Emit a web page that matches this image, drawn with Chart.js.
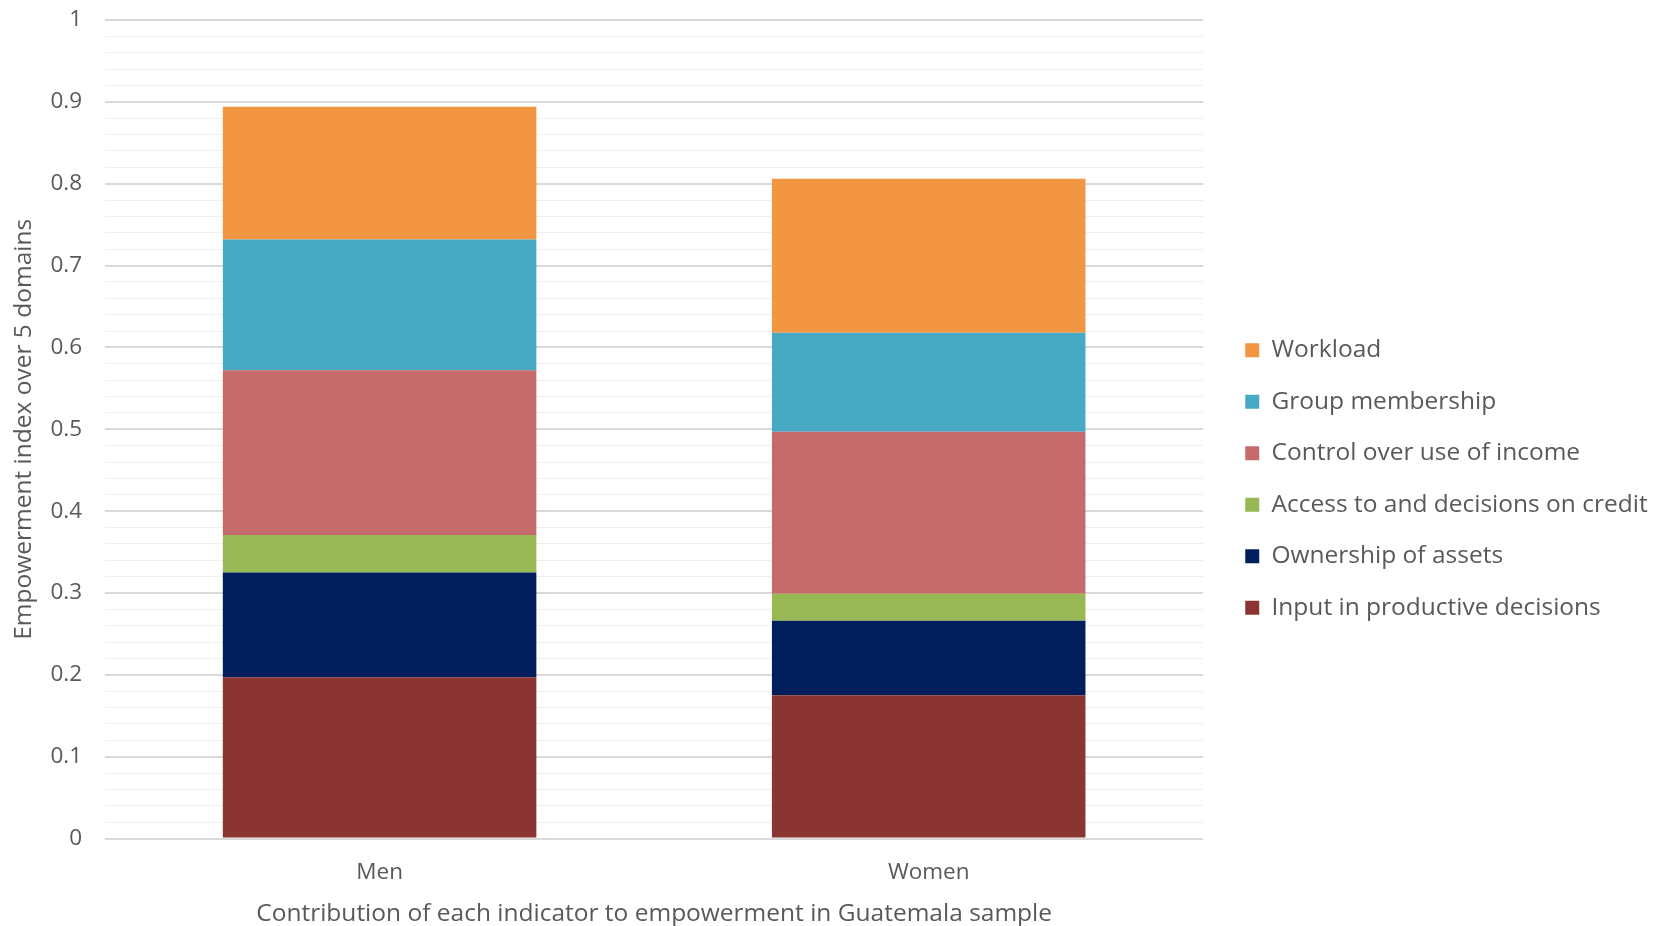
<!DOCTYPE html>
<html>
<head>
<meta charset="utf-8">
<script src="https://cdn.jsdelivr.net/npm/chart.js@4.4.1/dist/chart.umd.min.js"></script>
<style>
  html, body { margin: 0; padding: 0; background: #ffffff; }
  #wrap { width: 1659px; height: 926px; position: relative; }
</style>
</head>
<body>
<div id="wrap"><canvas id="myChart"></canvas></div>
<script>
const groups = ["Men", "Women"];
const indicators = ["Input in productive decisions", "Ownership of assets", "Access to and decisions on credit",
    "Control over use of income", "Group membership", "Workload"];
const inputValues = [0.197, 0.175];
const ownershipValues = [0.128, 0.091];
const creditValues = [0.046, 0.033];
const incomeValues = [0.201, 0.198];
const groupValues = [0.160, 0.121];
const workloadValues = [0.162, 0.188];
const yTicks = [0, 0.1, 0.2, 0.3, 0.4, 0.5, 0.6, 0.7, 0.8, 0.9, 1];

const colors = ["#8A3531", "#001E5C", "#97B855", "#C66B6B", "#47A9C4", "#F39642"];
const series = [inputValues, ownershipValues, creditValues, incomeValues, groupValues, workloadValues];

const isMajor = v => yTicks.some(t => Math.abs(t - v) < 1e-6);

// a bit more room between plot and legend than labels.padding gives
const extraGap = 15;
const legendShiftY = 6;
const legendGap = {
    id: "legendGap",
    beforeLayout(chart) {
        const lg = chart.legend;
        if (lg && !lg._gapPatched) {
            const fit = lg.fit;
            lg.fit = function () { fit.call(this); this.width += extraGap; };
            lg._gapPatched = true;
        }
    },
    afterLayout(chart) {
        chart.legend.left += extraGap;
        chart.legend.right = chart.width;   // legend is clipped to its box
        chart.legend.top += legendShiftY;
        chart.legend.bottom += legendShiftY;
    }
};

new Chart("myChart", {
    type: "bar",
    data: {
        labels: groups,
        datasets: series.map((vals, i) => ({
            label: indicators[i],
            data: vals,
            backgroundColor: colors[i],
            borderWidth: 0,
            barPercentage: 0.571,
            categoryPercentage: 1
        }))
    },
    plugins: [legendGap],
    options: {
        responsive: true,
        maintainAspectRatio: false,
        animation: false,
        layout: { padding: { left: 4, right: 36, top: 20, bottom: 0 } },
        plugins: {
            tooltip: { enabled: false },
            legend: {
                position: "right",
                reverse: true,
                labels: {
                    boxWidth: 14,
                    boxHeight: 14,
                    padding: 27,
                    color: "#595959",
                    font: { family: "Open Sans", size: 24.5 }
                }
            }
        },
        scales: {
            x: {
                stacked: true,
                grid: { display: false, drawTicks: false },
                border: { display: false },
                ticks: { color: "#595959", font: { family: "Open Sans", size: 22.5 }, padding: 20 },
                title: {
                    display: true,
                    text: "Contribution of each indicator to empowerment in Guatemala sample",
                    color: "#595959",
                    font: { family: "Open Sans", size: 24.5 },
                    padding: { top: -6, bottom: -3 }
                }
            },
            y: {
                stacked: true,
                min: 0,
                max: 1,
                border: { display: false },
                grid: {
                    drawTicks: true,
                    tickLength: 20,
                    tickColor: "rgba(0,0,0,0)",
                    color: ctx => isMajor(ctx.tick.value) ? "#d9d9d9" : "#efefef",
                    lineWidth: ctx => isMajor(ctx.tick.value) ? 2 : 1
                },
                ticks: {
                    stepSize: 0.02,
                    autoSkip: false,
                    padding: 3,
                    color: "#595959",
                    font: { family: "Open Sans", size: 22.5 },
                    callback: v => isMajor(v) ? String(Math.round(v * 10) / 10) : ""
                },
                title: {
                    display: true,
                    text: "Empowerment index over 5 domains",
                    color: "#595959",
                    font: { family: "Open Sans", size: 24.5 },
                    padding: { top: 5, bottom: 9 }
                }
            }
        }
    }
});
</script>
</body>
</html>
